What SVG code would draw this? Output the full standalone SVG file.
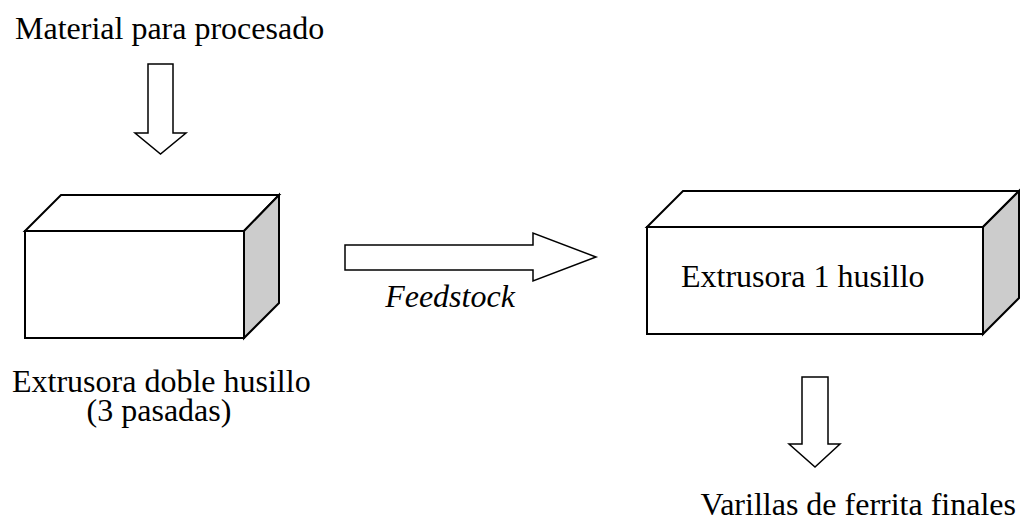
<svg xmlns="http://www.w3.org/2000/svg" width="1020" height="531" viewBox="0 0 1020 531">
<style>
.t{font-family:"Liberation Serif","Times New Roman",serif;font-size:32px;fill:#000}
.i{font-family:"Liberation Serif","Times New Roman",serif;font-style:italic;font-size:32px;fill:#000}
.s{fill:#fff;stroke:#000;stroke-width:2;stroke-linejoin:miter}
.side{fill:#cccccc;stroke:#000;stroke-width:2}
.a{fill:#fff;stroke:#000;stroke-width:1.5}
</style>
<rect width="1020" height="531" fill="#fff"/>
<g id="input-label"><text class="t" x="15" y="39">Material para procesado</text></g>
<g id="twin-extruder">
<polygon class="s" points="25,231 61,195 279,195 244,231"/>
<polygon class="side" points="244,231 279,195 279,303 244,338"/>
<rect class="s" x="25" y="231" width="219" height="107"/>
<text class="t" x="12" y="392">Extrusora doble husillo</text>
<text class="t" x="159" y="421" text-anchor="middle">(3 pasadas)</text>
</g>
<g id="single-extruder">
<polygon class="s" points="647,227 683,191 1019,191 983,227"/>
<polygon class="side" points="983,227 1019,191 1019,298 983,334"/>
<rect class="s" x="647" y="227" width="336" height="107"/>
<text class="t" x="681" y="287">Extrusora 1 husillo</text>
</g>
<g id="output-label"><text class="t" x="1016" y="515" text-anchor="end">Varillas de ferrita finales</text></g>
<g id="connectors">
<polygon class="a" points="148,64 173,64 173,133 186,133 160.5,154 135,133 148,133"/>
<polygon class="a" points="345,245 533,245 533,233 596,257 533,281 533,270 345,270"/>
<polygon class="a" points="802,377 828,377 828,444 840,444 815,467 789,444 802,444"/>
<text class="i" x="450" y="307" text-anchor="middle">Feedstock</text>
</g>
</svg>
